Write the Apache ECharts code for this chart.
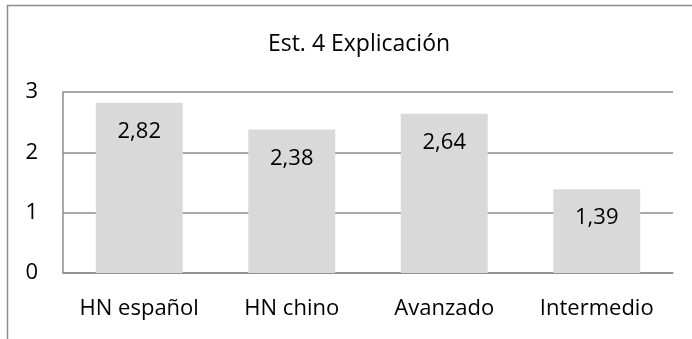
<!DOCTYPE html>
<html>
<head>
<meta charset="utf-8">
<script src="https://cdn.jsdelivr.net/npm/echarts@6/dist/echarts.min.js"></script>
<style>
  html, body { margin: 0; padding: 0; background: #fff; }
  #chart { width: 692px; height: 339px; }
</style>
</head>
<body>
<div id="chart"></div>
<script>
// Chart content
const chartTitle = 'Est. 4 Explicación';
const categories = ['HN español', 'HN chino', 'Avanzado', 'Intermedio'];
const values = [2.82, 2.38, 2.64, 1.39];
const yTicks = [0, 1, 2, 3];

const FONT = '"Open Sans", sans-serif';
const TEXT = '#000000';
const LINE = '#8c8c8c';

const chart = echarts.init(document.getElementById('chart'), null, { renderer: 'canvas' });

chart.setOption({
  backgroundColor: '#ffffff',
  animation: false,
  title: {
    text: chartTitle,
    left: 354,
    top: 28,
    textAlign: 'center',
    textStyle: { fontFamily: FONT, fontSize: 23, fontWeight: 'normal', color: TEXT }
  },
  graphic: [{
    type: 'rect',
    shape: { x: 7.5, y: 5.5, width: 720, height: 400 },
    style: { fill: null, stroke: LINE, lineWidth: 1.5 },
    silent: true
  }],
  grid: { left: 63, right: 19, top: 92, bottom: 66, containLabel: false },
  xAxis: {
    type: 'category',
    data: categories,
    axisLine: { show: true, lineStyle: { color: LINE, width: 1.5 } },
    axisTick: { show: false },
    axisLabel: { fontFamily: FONT, fontSize: 22, color: TEXT, margin: 25, interval: 0 }
  },
  yAxis: {
    type: 'value',
    min: yTicks[0],
    max: yTicks[yTicks.length - 1],
    interval: 1,
    axisLine: { show: true, lineStyle: { color: LINE, width: 1.5 } },
    axisTick: { show: false },
    splitLine: { show: true, lineStyle: { color: LINE, width: 1.5 } },
    axisLabel: { fontFamily: FONT, fontSize: 22, color: TEXT, margin: 25 }
  },
  series: [{
    type: 'bar',
    data: values,
    barWidth: '57%',
    itemStyle: { color: '#d9d9d9' },
    label: {
      show: true,
      position: 'insideTop',
      distance: 18,
      fontFamily: FONT,
      fontSize: 22,
      color: TEXT,
      formatter: p => p.value.toFixed(2).replace('.', ',')
    }
  }]
});
</script>
</body>
</html>
